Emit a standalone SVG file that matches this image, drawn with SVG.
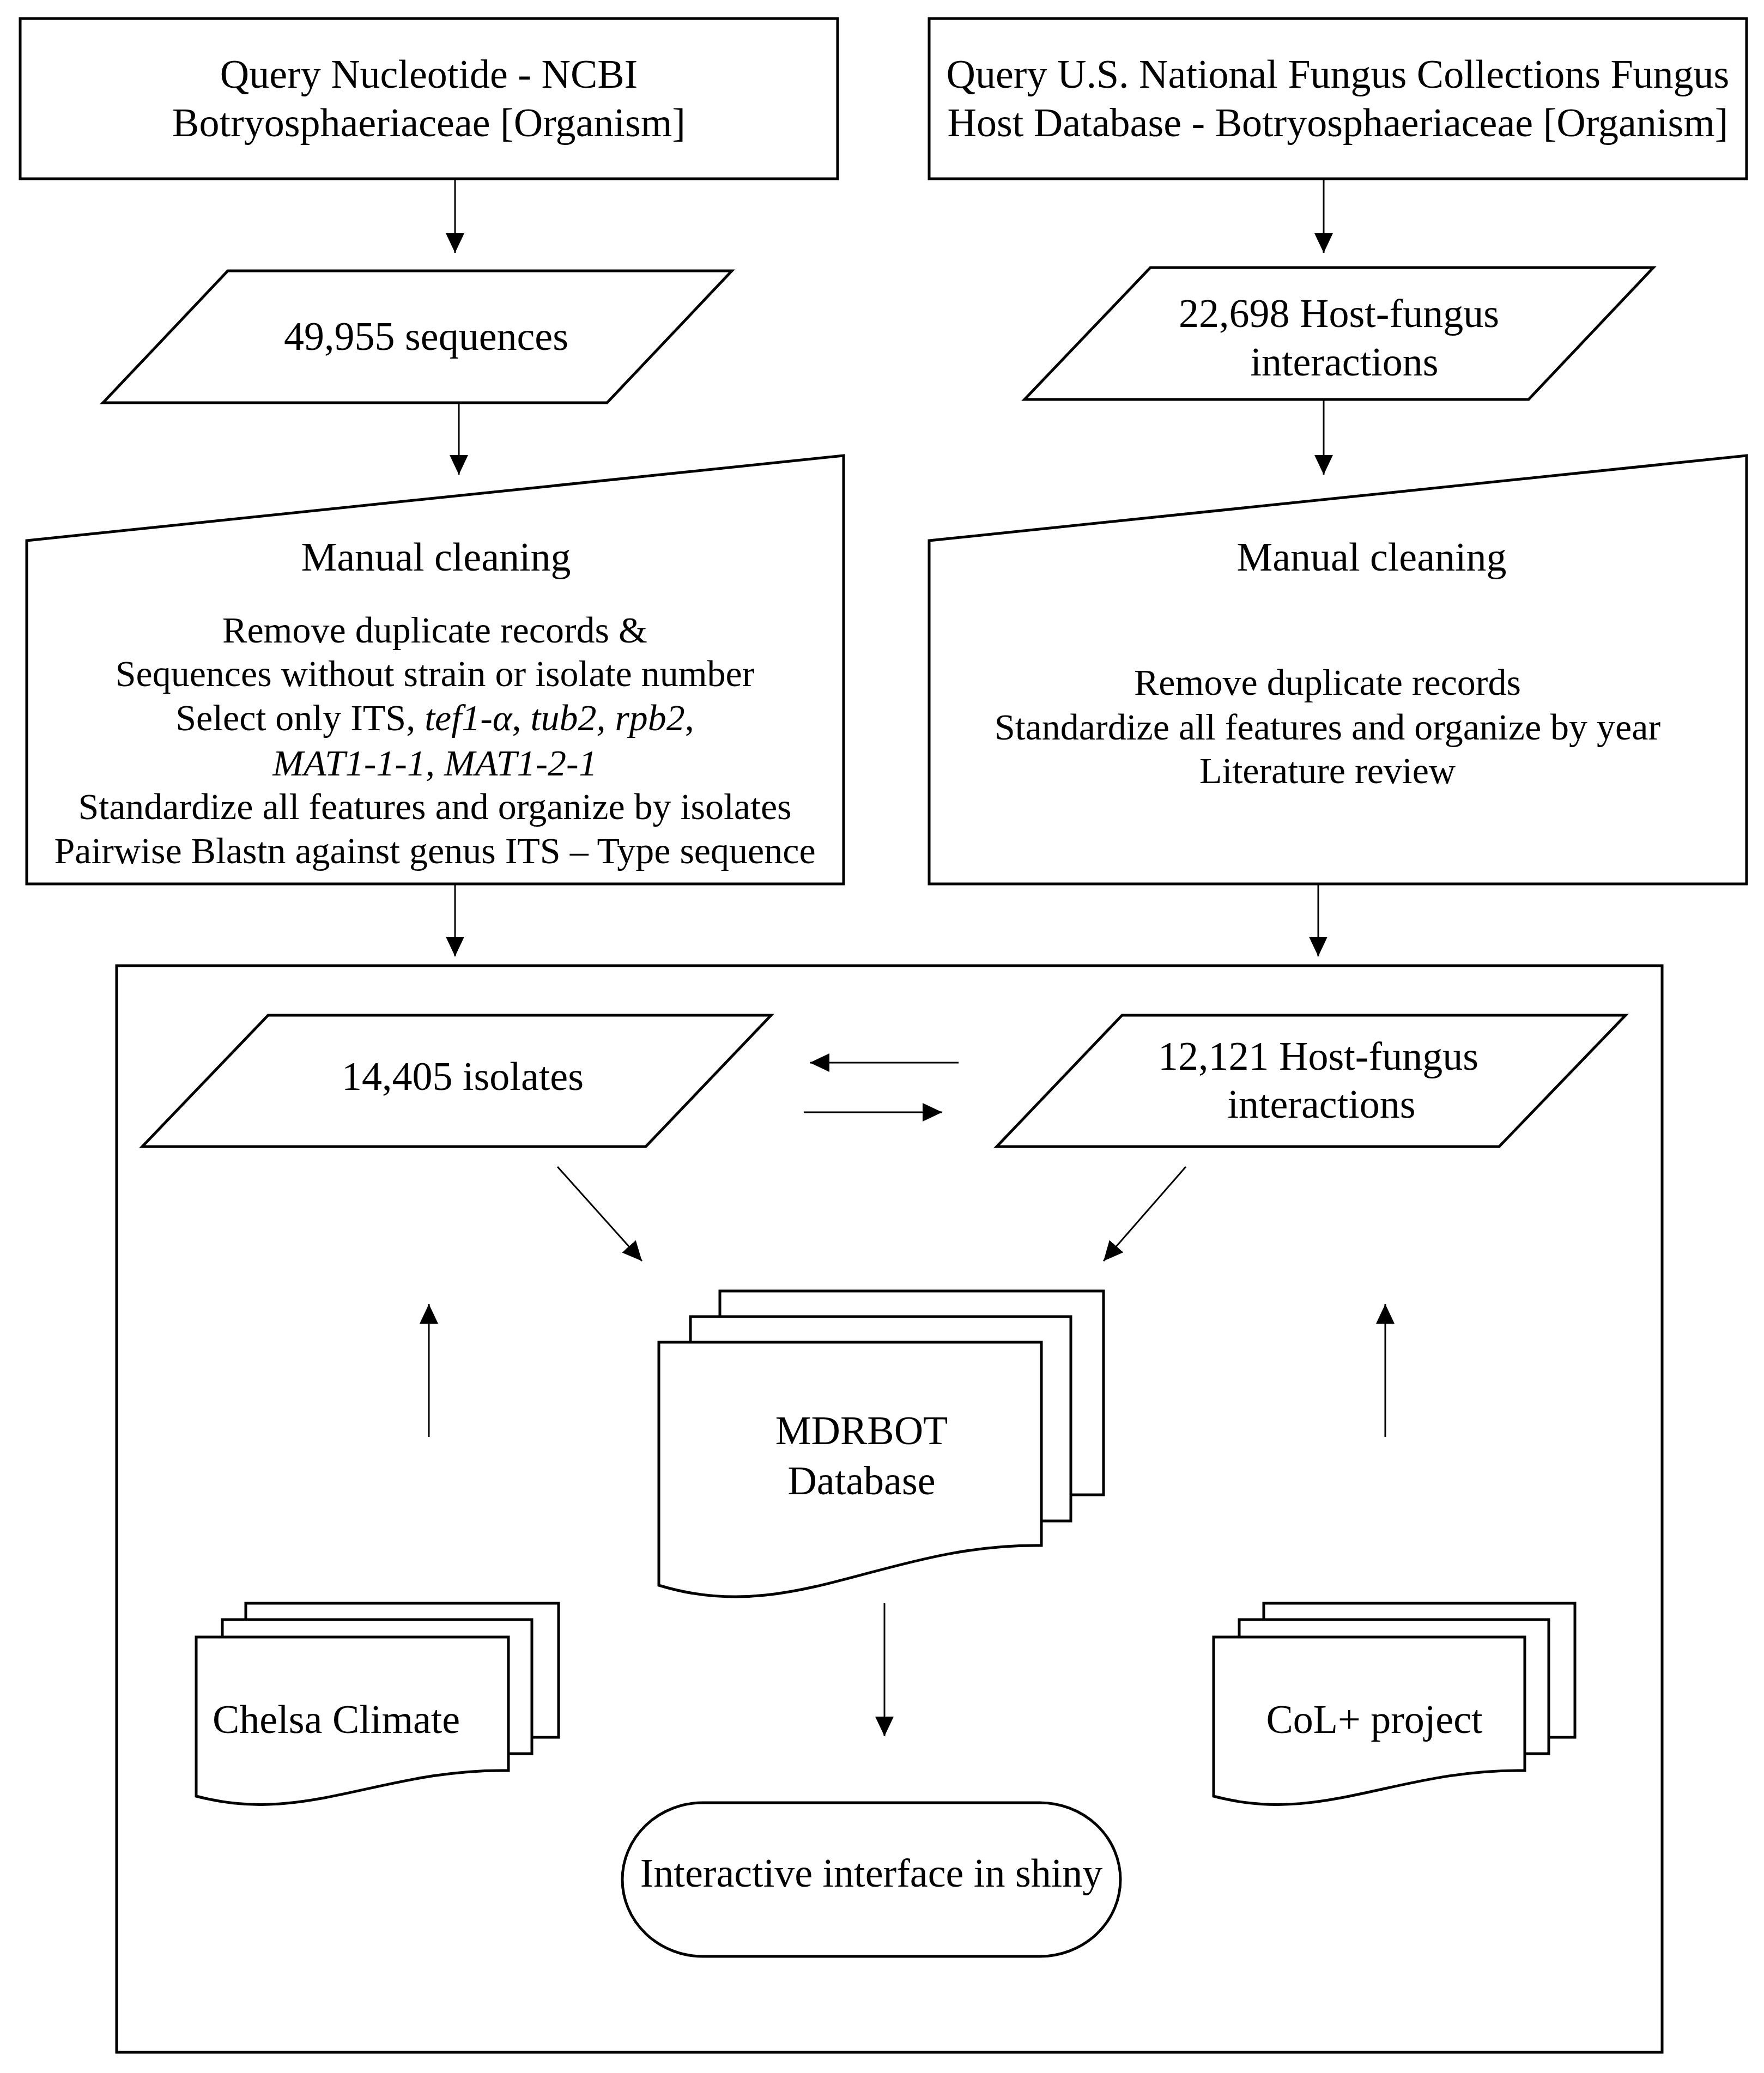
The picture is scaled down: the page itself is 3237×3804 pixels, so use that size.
<svg xmlns="http://www.w3.org/2000/svg" width="3237" height="3804" viewBox="0 0 3237 3804">
<style>
.s{fill:#fff;stroke:#000;stroke-width:5;stroke-linejoin:miter}
.t{font-family:"Liberation Serif","Times New Roman",serif;font-size:74px;fill:#000;text-anchor:middle}
.b{font-size:68px}
.c{fill:none;stroke:#000;stroke-width:3}
</style>
<defs>
<marker id="ah" markerUnits="userSpaceOnUse" markerWidth="38" markerHeight="36" refX="36" refY="17" orient="auto">
<path d="M0,0 L36,17 L0,34 z" fill="#000"/>
</marker>
</defs>
<rect width="3237" height="3804" fill="#fff"/>

<g id="outer">
<rect class="s" x="214" y="1772" width="2836" height="1994"/>
</g>

<g id="ncbi">
<rect class="s" x="37" y="34" width="1500" height="294"/>
<text class="t" x="787" y="161">Query Nucleotide - NCBI</text>
<text class="t" x="787" y="250">Botryosphaeriaceae [Organism]</text>
</g>

<g id="usnfc">
<rect class="s" x="1705" y="34" width="1500" height="294"/>
<text class="t" x="2455" y="161">Query U.S. National Fungus Collections Fungus</text>
<text class="t" x="2455" y="250">Host Database - Botryosphaeriaceae [Organism]</text>
</g>

<g id="seqs">
<polygon class="s" points="418,497 1343,497 1114,739 189,739"/>
<text class="t" x="782" y="642">49,955 sequences</text>
</g>

<g id="hostfungus1">
<polygon class="s" points="2111,491 3034,491 2805,733 1880,733"/>
<text class="t" x="2457" y="600">22,698 Host-fungus</text>
<text class="t" x="2467" y="689">interactions</text>
</g>

<g id="clean-left">
<polygon class="s" points="49,992 1548,836 1548,1622 49,1622"/>
<text class="t" x="800" y="1047">Manual cleaning</text>
<text class="t b" x="798" y="1179">Remove duplicate records &amp;</text>
<text class="t b" x="798" y="1259">Sequences without strain or isolate number</text>
<text class="t b" x="798" y="1340">Select only ITS, <tspan font-style="italic">tef1-α</tspan>, <tspan font-style="italic">tub2,</tspan> <tspan font-style="italic">rpb2</tspan>,</text>
<text class="t b" x="798" y="1423"><tspan font-style="italic">MAT1-1-1</tspan>, <tspan font-style="italic">MAT1-2-1</tspan></text>
<text class="t b" x="798" y="1503">Standardize all features and organize by isolates</text>
<text class="t b" x="798" y="1584">Pairwise Blastn against genus ITS – Type sequence</text>
</g>

<g id="clean-right">
<polygon class="s" points="1705,992 3205,836 3205,1622 1705,1622"/>
<text class="t" x="2517" y="1047">Manual cleaning</text>
<text class="t b" x="2436" y="1275">Remove duplicate records</text>
<text class="t b" x="2436" y="1357">Standardize all features and organize by year</text>
<text class="t b" x="2436" y="1437">Literature review</text>
</g>

<g id="isolates">
<polygon class="s" points="492,1863 1415,1863 1185,2104 261,2104"/>
<text class="t" x="849" y="2000">14,405 isolates</text>
</g>

<g id="hostfungus2">
<polygon class="s" points="2059,1863 2983,1863 2751,2104 1829,2104"/>
<text class="t" x="2419" y="1963">12,121 Host-fungus</text>
<text class="t" x="2425" y="2051">interactions</text>
</g>

<g id="mdrbot">
<rect class="s" x="1321" y="2369" width="704" height="374"/>
<rect class="s" x="1267" y="2416" width="698" height="375"/>
<path class="s" d="M1209,2463 H1911 V2836 C1626,2832 1454,2985 1209,2909 Z"/>
<text class="t" x="1581" y="2650">MDRBOT</text>
<text class="t" x="1581" y="2742">Database</text>
</g>

<g id="chelsa">
<rect class="s" x="451" y="2942" width="574" height="246"/>
<rect class="s" x="408" y="2972" width="568" height="246"/>
<path class="s" d="M360,3004 H933 V3249 C700,3245 560,3350 360,3296 Z"/>
<text class="t" x="390" y="3180" text-anchor="start" style="text-anchor:start">Chelsa Climate</text>
</g>

<g id="colplus">
<rect class="s" x="2319" y="2942" width="571" height="246"/>
<rect class="s" x="2274" y="2972" width="568" height="246"/>
<path class="s" d="M2227,3004 H2798 V3249 C2565,3245 2425,3350 2227,3296 Z"/>
<text class="t" x="2522" y="3180">CoL+ project</text>
</g>

<g id="shiny">
<rect class="s" x="1142" y="3308" width="914" height="282" rx="148" ry="141"/>
<text class="t" x="1599" y="3462">Interactive interface in shiny</text>
</g>

<g id="connectors">
<line class="c" x1="835" y1="330" x2="835" y2="464" marker-end="url(#ah)"/>
<line class="c" x1="842" y1="741" x2="842" y2="871" marker-end="url(#ah)"/>
<line class="c" x1="2429" y1="330" x2="2429" y2="464" marker-end="url(#ah)"/>
<line class="c" x1="2429" y1="735" x2="2429" y2="871" marker-end="url(#ah)"/>
<line class="c" x1="835" y1="1624" x2="835" y2="1755" marker-end="url(#ah)"/>
<line class="c" x1="2419" y1="1624" x2="2419" y2="1755" marker-end="url(#ah)"/>
<line class="c" x1="1759" y1="1950" x2="1486" y2="1950" marker-end="url(#ah)"/>
<line class="c" x1="1475" y1="2041" x2="1729" y2="2041" marker-end="url(#ah)"/>
<line class="c" x1="1023" y1="2141" x2="1178" y2="2314" marker-end="url(#ah)"/>
<line class="c" x1="2176" y1="2141" x2="2025" y2="2314" marker-end="url(#ah)"/>
<line class="c" x1="787" y1="2637" x2="787" y2="2393" marker-end="url(#ah)"/>
<line class="c" x1="2542" y1="2637" x2="2542" y2="2393" marker-end="url(#ah)"/>
<line class="c" x1="1623" y1="2942" x2="1623" y2="3186" marker-end="url(#ah)"/>
</g>
</svg>
